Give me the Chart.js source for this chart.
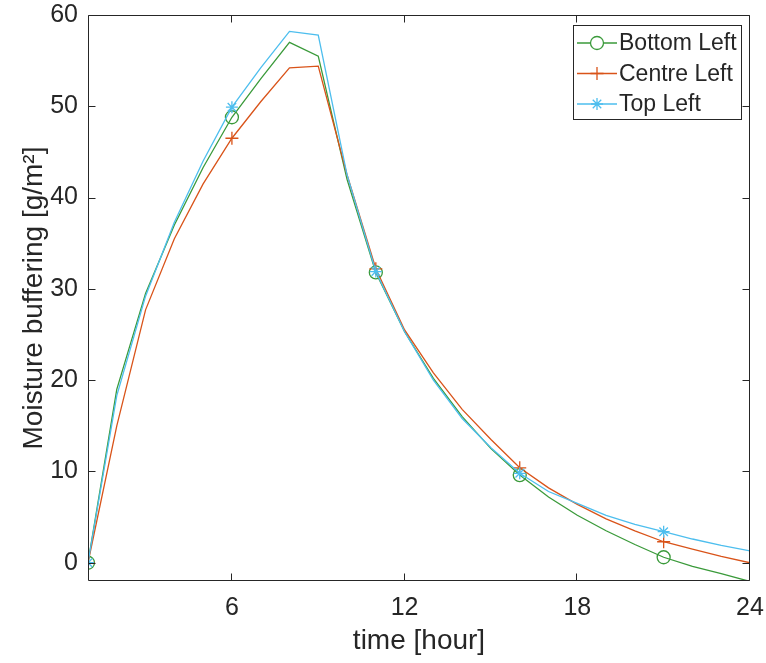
<!DOCTYPE html>
<html>
<head>
<meta charset="utf-8">
<script src="https://cdn.jsdelivr.net/npm/chart.js@4.4.1/dist/chart.umd.min.js"></script>
<style>
  html, body { margin: 0; padding: 0; background: #ffffff; }
  #wrap { width: 766px; height: 663px; position: relative; }
</style>
</head>
<body>
<div id="wrap"><canvas id="c"></canvas></div>
<script>
// ---- data ----
const hours = [1, 2, 3, 4, 5, 6, 7, 8, 9, 10, 11, 12, 13, 14, 15, 16, 17, 18, 19, 20, 21, 22, 23, 24];
const bottomLeft = [0, 19.0, 29.5, 37.0, 43.3, 48.8, 53.0, 57.0, 55.5, 42.0, 31.8, 25.3, 20.2, 16.0, 12.5, 9.6, 7.2, 5.2, 3.5, 2.0, 0.6, -0.4, -1.2, -2.05];
const centreLeft = [0, 15.0, 27.7, 35.5, 41.5, 46.5, 50.5, 54.2, 54.4, 42.5, 32.2, 25.5, 20.8, 16.8, 13.5, 10.4, 8.2, 6.4, 4.8, 3.5, 2.3, 1.5, 0.7, 0.0];
const topLeft    = [0, 18.3, 29.2, 37.3, 44.0, 49.9, 54.2, 58.2, 57.8, 42.5, 31.9, 25.3, 20.0, 15.8, 12.6, 9.8, 7.8, 6.5, 5.2, 4.2, 3.4, 2.6, 1.9, 1.3];
const seriesNames = ['Bottom Left', 'Centre Left', 'Top Left'];
const xTicks = [6, 12, 18, 24];
const yTicks = [0, 10, 20, 30, 40, 50, 60];
const xLabel = 'time [hour]';
const yLabel = 'Moisture buffering [g/m\u00B2]';

const FONT = "'Liberation Sans', Arial, Helvetica, sans-serif";
const AXIS = '#262626';
const markerEvery = 5;

function pts(vals) { return hours.map((h, i) => ({ x: h, y: vals[i] })); }

function makeSet(label, vals, color, style, r, order) {
  return {
    label: label,
    data: pts(vals),
    borderColor: color,
    backgroundColor: color,
    borderWidth: 1.3,
    pointStyle: style,
    pointRadius: ctx => (ctx.dataIndex % markerEvery === 0 ? r : 0),
    pointHoverRadius: ctx => (ctx.dataIndex % markerEvery === 0 ? r : 0),
    pointBorderColor: color,
    pointBackgroundColor: 'rgba(0,0,0,0)',
    pointBorderWidth: 1.3,
    tension: 0,
    fill: false,
    order: order
  };
}

function noPad(s) { s.paddingTop = 0; s.paddingBottom = 0; s.paddingLeft = 0; s.paddingRight = 0; }

const frameAndLegend = {
  id: 'frameAndLegend',
  afterDatasetsDraw(chart) {
    const ctx = chart.ctx;
    const { left, right, top, bottom } = chart.chartArea;
    const xs = chart.scales.x, ys = chart.scales.y;
    ctx.save();
    ctx.strokeStyle = AXIS;
    ctx.lineWidth = 1;
    const L = Math.round(left) + 0.5, R = Math.round(right) - 0.5;
    const T = Math.round(top) + 0.5, B = Math.round(bottom) - 0.5;
    ctx.beginPath();
    ctx.rect(L, T, R - L, B - T);
    ctx.stroke();
    const tl = 7;
    ctx.beginPath();
    xTicks.forEach(v => {
      const px = Math.round(xs.getPixelForValue(v)) - 0.5;
      ctx.moveTo(px, B); ctx.lineTo(px, B - tl);
      ctx.moveTo(px, T); ctx.lineTo(px, T + tl);
    });
    yTicks.forEach(v => {
      const py = Math.round(ys.getPixelForValue(v)) + 0.5;
      ctx.moveTo(L, py); ctx.lineTo(L + tl, py);
      ctx.moveTo(R, py); ctx.lineTo(R - tl, py);
    });
    ctx.stroke();

    // legend (MATLAB style: line with marker through it)
    const bx = 573.5, by = 25.5, bw = 168, bh = 94;
    ctx.fillStyle = '#ffffff';
    ctx.fillRect(bx, by, bw, bh);
    ctx.strokeStyle = AXIS;
    ctx.strokeRect(bx, by, bw, bh);
    ctx.font = '23px ' + FONT;
    ctx.textBaseline = 'middle';
    ctx.textAlign = 'left';
    const rowY = [43, 73.5, 104];
    chart.data.datasets.forEach((ds, i) => {
      const y = rowY[i];
      ctx.strokeStyle = ds.borderColor;
      ctx.lineWidth = 1.3;
      ctx.beginPath();
      ctx.moveTo(577, y); ctx.lineTo(617, y);
      ctx.stroke();
      Chart.helpers.drawPoint(ctx, {
        pointStyle: ds.pointStyle,
        radius: ds._legendR,
        borderWidth: 1.3,
        rotation: 0
      }, 597, y);
      ctx.fillStyle = AXIS;
      ctx.fillText(ds.label, 619, y + 1);
    });
    ctx.restore();
  }
};

const dsGreen = makeSet(seriesNames[0], bottomLeft, '#3a9a3a', 'circle', 6.5, 2);
dsGreen._legendR = 6.5;
const dsOrange = makeSet(seriesNames[1], centreLeft, '#D95319', 'cross', 6.5, 1);
dsOrange._legendR = 6.5;
const dsCyan = makeSet(seriesNames[2], topLeft, '#4DBEEE', 'star', 6, 0);
dsCyan._legendR = 6;

new Chart(document.getElementById('c'), {
  type: 'line',
  data: { datasets: [dsGreen, dsOrange, dsCyan] },
  options: {
    responsive: true,
    maintainAspectRatio: false,
    animation: false,
    layout: { padding: { top: 15, right: 16, left: 0, bottom: 0 } },
    plugins: { legend: { display: false }, tooltip: { enabled: false } },
    scales: {
      x: {
        type: 'linear',
        min: 1, max: 24,
        afterBuildTicks: s => { s.ticks = xTicks.map(v => ({ value: v })); },
        afterFit: s => { s.height = 82; noPad(s); },
        grid: { display: false, drawTicks: false },
        border: { display: false },
        ticks: { color: AXIS, font: { family: FONT, size: 25 }, padding: 12, maxRotation: 0, autoSkip: false },
        title: { display: true, text: xLabel, color: AXIS, font: { family: FONT, size: 28 }, padding: { top: 0, bottom: 5 } }
      },
      y: {
        type: 'linear',
        min: -2, max: 60,
        afterBuildTicks: s => { s.ticks = yTicks.map(v => ({ value: v })); },
        afterFit: s => { s.width = 88; noPad(s); },
        grid: { display: false, drawTicks: false },
        border: { display: false },
        ticks: { color: AXIS, font: { family: FONT, size: 25 }, padding: 10, autoSkip: false },
        title: { display: true, text: yLabel, color: AXIS, font: { family: FONT, size: 28 }, padding: { top: 17, bottom: 0 } }
      }
    }
  },
  plugins: [frameAndLegend]
});
</script>
</body>
</html>
